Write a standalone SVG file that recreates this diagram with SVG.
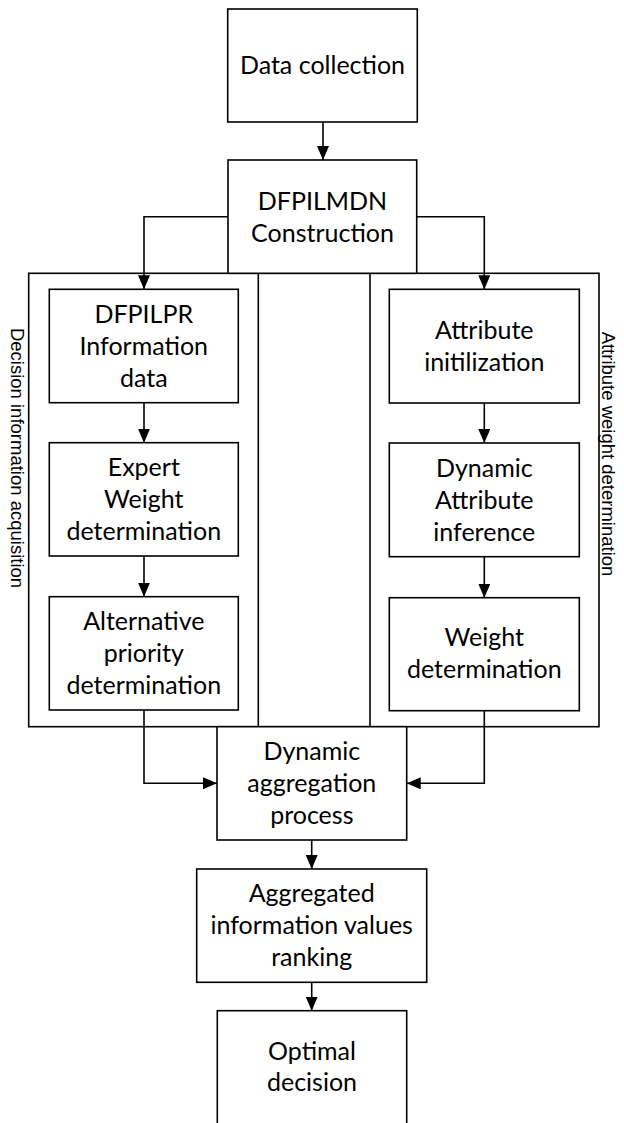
<svg xmlns="http://www.w3.org/2000/svg" width="624" height="1123" viewBox="0 0 624 1123">
<style>
.box{fill:#fff;stroke:#000;stroke-width:1.6}
.frame{fill:none;stroke:#000;stroke-width:1.6}
.lbl{font-family:Lato,"Liberation Sans",sans-serif;font-size:25px;fill:#000;text-anchor:middle}
.side{font-family:"Liberation Sans",Arial,sans-serif;font-size:18.5px;fill:#000;text-anchor:middle}
.con{fill:none;stroke:#000;stroke-width:1.6}
</style>
<defs>
<marker id="arr" markerUnits="userSpaceOnUse" markerWidth="14" markerHeight="12" refX="14" refY="6" orient="auto">
<path d="M0,0 L14,6 L0,12 z" fill="#000"/>
</marker>
</defs>
<rect width="624" height="1123" fill="#fff"/>
<g id="container">
<rect class="frame" x="28.7" y="273.3" width="570.3" height="453.4"/>
<line class="frame" x1="258.3" y1="273.3" x2="258.3" y2="726.7"/>
<line class="frame" x1="370" y1="273.3" x2="370" y2="726.7"/>
</g>
<g id="label-left"><text class="side" transform="translate(11,458) rotate(90)">Decision information acquisition</text></g>
<g id="label-right"><text class="side" transform="translate(602,454) rotate(90)">Attribute weight determination</text></g>
<g id="connectors">
<line class="con" x1="323" y1="122" x2="323" y2="160" marker-end="url(#arr)"/>
<path class="con" d="M228,216.7 H144 V289.3" marker-end="url(#arr)"/>
<path class="con" d="M416.7,216.7 H484.3 V289.3" marker-end="url(#arr)"/>
<line class="con" x1="144" y1="402.7" x2="144" y2="442.7" marker-end="url(#arr)"/>
<line class="con" x1="144" y1="556" x2="144" y2="596.7" marker-end="url(#arr)"/>
<line class="con" x1="484.3" y1="403" x2="484.3" y2="443" marker-end="url(#arr)"/>
<line class="con" x1="484.3" y1="556.7" x2="484.3" y2="597.7" marker-end="url(#arr)"/>
<path class="con" d="M144,710 V783.3 H217" marker-end="url(#arr)"/>
<path class="con" d="M484.3,710.7 V783.3 H406.7" marker-end="url(#arr)"/>
<line class="con" x1="311.7" y1="840" x2="311.7" y2="869" marker-end="url(#arr)"/>
<line class="con" x1="311.7" y1="982.3" x2="311.7" y2="1010.7" marker-end="url(#arr)"/>
</g>
<g id="n-data">
<rect class="box" x="227.7" y="9" width="189.6" height="113"/>
<text class="lbl" x="322.5" y="74">Data collection</text>
</g>
<g id="n-dfpilmdn">
<rect class="box" x="228" y="160" width="188.7" height="113.3"/>
<text class="lbl" x="322.5" y="210">DFPILMDN</text>
<text class="lbl" x="322.5" y="242">Construction</text>
</g>
<g id="n-dfpilpr">
<rect class="box" x="49.3" y="289.3" width="189" height="113.4"/>
<text class="lbl" x="143.8" y="323">DFPILPR</text>
<text class="lbl" x="143.8" y="355">Information</text>
<text class="lbl" x="143.8" y="387">data</text>
</g>
<g id="n-expert">
<rect class="box" x="49.3" y="442.7" width="189" height="113.3"/>
<text class="lbl" x="143.8" y="476">Expert</text>
<text class="lbl" x="143.8" y="508">Weight</text>
<text class="lbl" x="143.8" y="540">determination</text>
</g>
<g id="n-alternative">
<rect class="box" x="49.3" y="596.7" width="189" height="113.3"/>
<text class="lbl" x="143.8" y="630">Alternative</text>
<text class="lbl" x="143.8" y="662">priority</text>
<text class="lbl" x="143.8" y="694">determination</text>
</g>
<g id="n-attrinit">
<rect class="box" x="389.3" y="289.3" width="190" height="113.7"/>
<text class="lbl" x="484.3" y="338.5">Attribute</text>
<text class="lbl" x="484.3" y="370.5">initilization</text>
</g>
<g id="n-dynattr">
<rect class="box" x="389.3" y="443" width="190" height="113.7"/>
<text class="lbl" x="484.3" y="476.5">Dynamic</text>
<text class="lbl" x="484.3" y="508.5">Attribute</text>
<text class="lbl" x="484.3" y="540.5">inference</text>
</g>
<g id="n-weight">
<rect class="box" x="389.3" y="597.7" width="190" height="113"/>
<text class="lbl" x="484.3" y="646">Weight</text>
<text class="lbl" x="484.3" y="678">determination</text>
</g>
<g id="n-dynagg">
<rect class="box" x="217" y="726.7" width="189.7" height="113.3"/>
<text class="lbl" x="311.8" y="760">Dynamic</text>
<text class="lbl" x="311.8" y="792">aggregation</text>
<text class="lbl" x="311.8" y="824">process</text>
</g>
<g id="n-aggregated">
<rect class="box" x="196.7" y="869" width="230" height="113.3"/>
<text class="lbl" x="311.7" y="902">Aggregated</text>
<text class="lbl" x="311.7" y="934">information values</text>
<text class="lbl" x="311.7" y="966">ranking</text>
</g>
<g id="n-optimal">
<rect class="box" x="217.3" y="1010.7" width="189.4" height="115"/>
<text class="lbl" x="312" y="1060">Optimal</text>
<text class="lbl" x="312" y="1091">decision</text>
</g>
</svg>
